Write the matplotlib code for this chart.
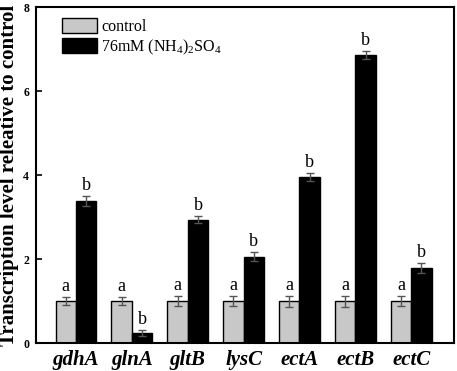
import numpy as np
import matplotlib
matplotlib.use("Agg")
import matplotlib.pyplot as plt

plt.rcParams['font.family'] = ['Liberation Serif', 'DejaVu Serif']
plt.rcParams['mathtext.fontset'] = 'custom'
plt.rcParams['mathtext.rm'] = 'Liberation Serif'

genes = ["gdhA", "glnA", "gltB", "lysC", "ectA", "ectB", "ectC"]
control = [1, 1, 1, 1, 1, 1, 1]
control_err = [0.10, 0.10, 0.12, 0.12, 0.13, 0.13, 0.12]
treated = [3.38, 0.25, 2.94, 2.06, 3.95, 6.86, 1.78]
treated_err = [0.12, 0.07, 0.08, 0.10, 0.09, 0.10, 0.12]
control_sig = ["a"] * 7
treated_sig = ["b"] * 7

fig = plt.figure(figsize=(4.57, 3.71), dpi=100)
ax = fig.add_axes([0.079, 0.075, 0.915, 0.906])

x = np.arange(len(genes))
w = 0.366
ekw = dict(ecolor="#555555", elinewidth=1, capsize=3, capthick=1)
ax.bar(x - w / 2, control, w, yerr=control_err, color="#c8c8c8",
       edgecolor="black", linewidth=1, error_kw=ekw, label="control")
ax.bar(x + w / 2, treated, w, yerr=treated_err, color="black",
       edgecolor="black", linewidth=1, error_kw=ekw,
       label="76mM (NH$_4$)$_2$SO$_4$")

for i in range(len(genes)):
    ax.text(x[i] - w / 2, control[i] + control_err[i] + 0.05, control_sig[i],
            ha="center", va="bottom", fontsize=13)
    ax.text(x[i] + w / 2, treated[i] + treated_err[i] + 0.05, treated_sig[i],
            ha="center", va="bottom", fontsize=13)

ax.set_xlim(-0.714, 6.77)
ax.set_ylim(0, 8)
ax.set_yticks([0, 2, 4, 6, 8])
ax.set_xticks(x)
ax.set_xticklabels(genes, fontsize=15, fontweight="bold", fontstyle="italic")
ax.tick_params(axis="x", length=0, pad=5)
ax.tick_params(axis="y", direction="in", length=4, width=1.2, labelsize=8.5, pad=5)
for lab in ax.get_yticklabels():
    lab.set_fontweight("bold")
for s in ax.spines.values():
    s.set_linewidth(1.5)

ax.set_ylabel("Transcription level releative to control", fontsize=15,
              fontweight="bold", labelpad=3)

ax.legend(loc="upper left", frameon=False, fontsize=11.5, handlelength=2.2,
          handleheight=1.05, handletextpad=0.25, labelspacing=0.15,
          borderaxespad=0, borderpad=0, bbox_to_anchor=(0.062, 0.967))

fig.savefig("out.png", dpi=100)
